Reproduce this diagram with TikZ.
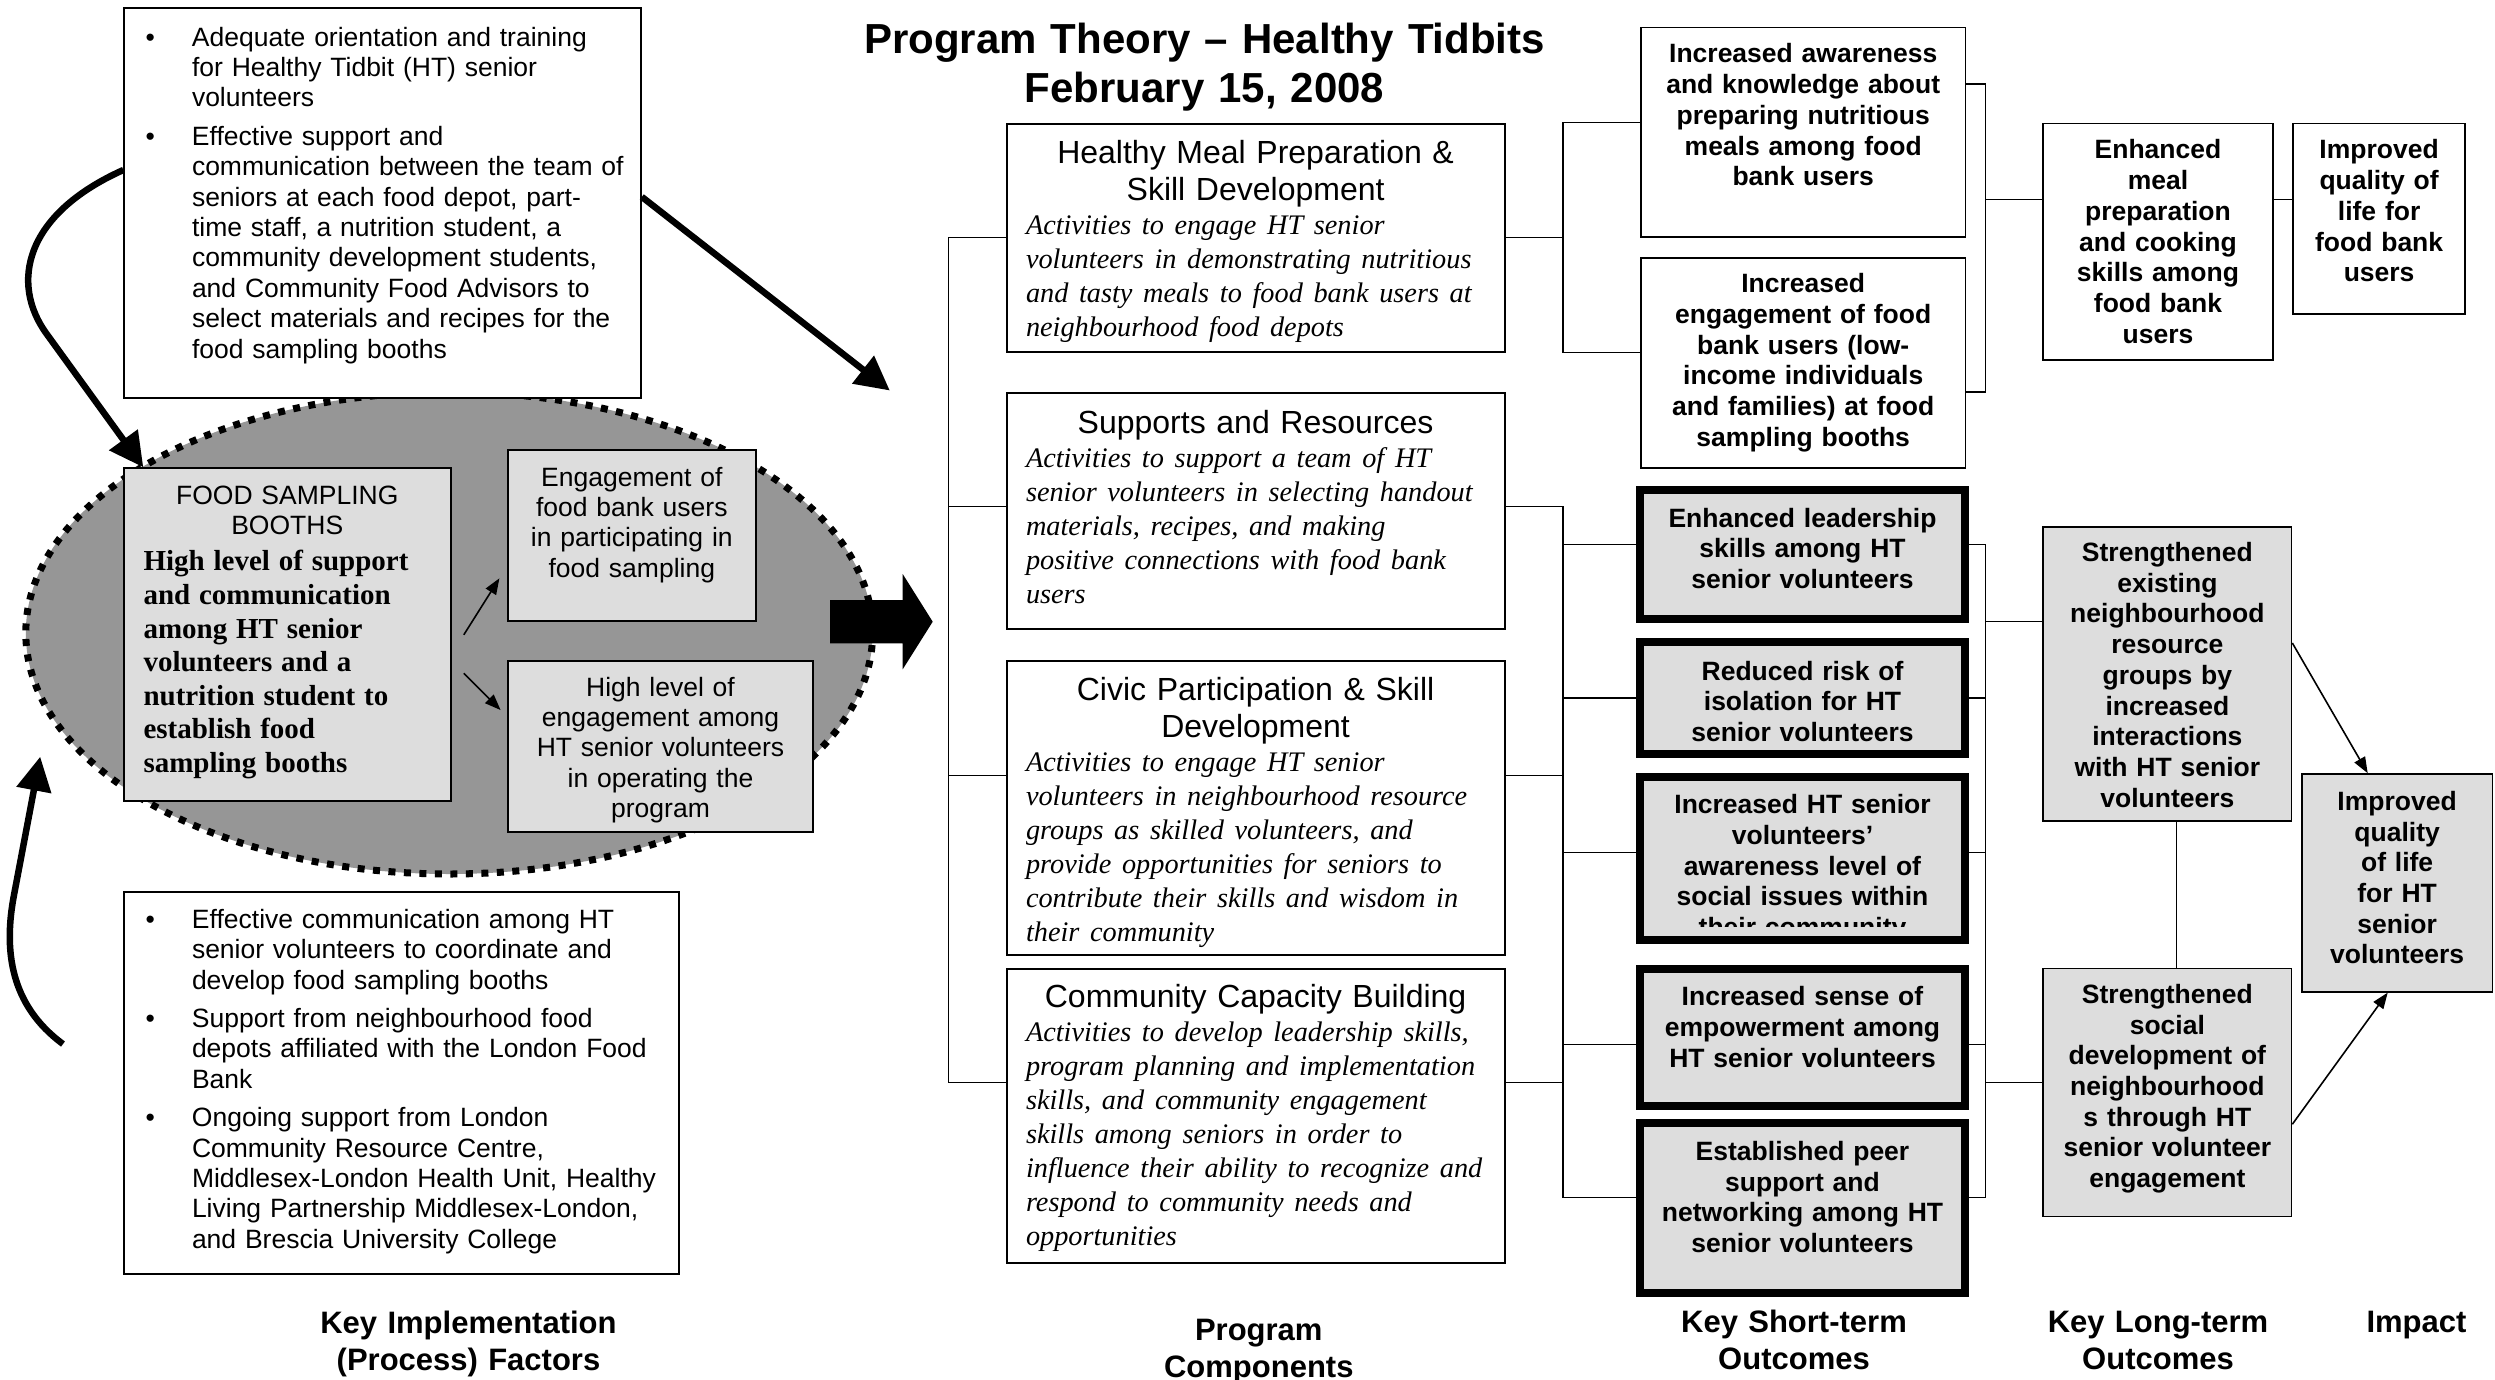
\documentclass[tikz,border=0pt]{standalone}
\usepackage{fontspec}
\setmainfont{Liberation Sans}
\newfontfamily\tnr{Liberation Serif}
\usetikzlibrary{arrows.meta}
\definecolor{midgray}{RGB}{150,150,150}
\definecolor{boxgray}{RGB}{221,221,221}
\newcommand\bul{\noindent\llap{\textbullet\hspace{37pt}}}

\begin{document}
\begin{tikzpicture}[x=1pt,y=-1pt,
    txt/.style={font=\fontsize{26.5}{30.4}\selectfont},
    plainbox/.style={draw,line width=2pt,fill=white,inner sep=0pt,anchor=north west},
    compbox/.style={plainbox,inner xsep=10pt,align=center,font=\fontsize{32}{37}\selectfont},
    outtext/.style={font=\bfseries\fontsize{26.5}{30.7}\selectfont},
    outbox/.style={draw,line width=1.6pt,fill=white,inner sep=0pt,anchor=north west,align=center,outtext},
    thickbox/.style={outbox,line width=8pt,fill=boxgray},
    link/.style={line width=1.4pt},
    bigarr/.style={line width=6.5pt,-{Triangle[length=34pt,width=34pt]}},
    smallarr/.style={line width=1.6pt,-{Triangle[length=16pt,width=12pt]}},
    colhead/.style={anchor=base,align=center,text width=420pt,font=\bfseries\fontsize{31}{37}\selectfont}]
        \path[use as bounding box,fill=white] (0,0) rectangle (2495,1379);
        % implementation side
        \draw[fill=midgray,line width=7pt,dash pattern=on 7pt off 8.5pt] (449.2,633) ellipse [x radius=423.4pt,y radius=241pt];
        \node[plainbox,align=left,txt,text width=516.4pt,text height=37.7pt,text depth=352pt] (impl1) at (123.4,7.3)
          {\leftskip=67.6pt
           \bul Adequate orientation and training\\
           for Healthy Tidbit (HT) senior\\
           volunteers\\[8pt]
           \bul Effective support and\\
           communication between the team of\\
           seniors at each food depot, part-\\
           time staff, a nutrition student, a\\
           community development students,\\
           and Community Food Advisors to\\
           select materials and recipes for the\\
           food sampling booths\par};
        \node[plainbox,align=left,txt,text width=554.9pt,text height=36.8pt,text depth=345.7pt] (impl2) at (123.4,890.5)
          {\leftskip=67.6pt
           \bul Effective communication among HT\\
           senior volunteers to coordinate and\\
           develop food sampling booths\\[8pt]
           \bul Support from neighbourhood food\\
           depots affiliated with the London Food\\
           Bank\\[8pt]
           \bul Ongoing support from London\\
           Community Resource Centre,\\
           Middlesex-London Health Unit, Healthy\\
           Living Partnership Middlesex-London,\\
           and Brescia University College\par};
        \node[plainbox,fill=boxgray,inner xsep=19.8pt,align=left,txt,text width=287.5pt,text height=36.2pt,text depth=296.8pt] (booth) at (122.7,467.3)
          {{\centering FOOD SAMPLING\\BOOTHS\par}\vspace{2.4pt}
           {\raggedright\tnr\bfseries\fontsize{29}{33.6}\selectfont High level of support\\and communication\\among HT senior\\volunteers and a\\nutrition student to\\establish food\\sampling booths\par}};
        \node[plainbox,fill=boxgray,align=center,txt,text width=247.6pt,text height=35.7pt,text depth=134.7pt] (engage1) at (507,449.3)
          {Engagement of\\food bank users\\in participating in\\food sampling};
        \node[plainbox,fill=boxgray,align=center,txt,text width=305pt,text height=35pt,text depth=135.7pt] (engage2) at (507,660)
          {High level of\\engagement among\\HT senior volunteers\\in operating the\\program};
        \draw[smallarr] ([xshift=12pt]booth.east) -- ([xshift=-7.6pt,yshift=-42.8pt]engage1.west);
        \draw[smallarr] ([xshift=12pt,yshift=-38.5pt]booth.east) -- ([xshift=-6.4pt,yshift=36.3pt]engage2.west);
        \coordinate (comptip) at (889.8,390.5);
        \coordinate (feedstart) at (63,1044);
        \coordinate (feedtip) at (40.2,756.7);
        \draw[bigarr] ([yshift=33.2pt]impl1.west) .. controls (23,215) and (11,284) .. (46,333) -- ([xshift=20.6pt]booth.north west);
        \draw[bigarr] ([yshift=6.3pt]impl1.east) -- (comptip);
        \draw[bigarr] (feedstart) .. controls (10,1005) and (3.5,950) .. (14,895) -- (feedtip);
        \fill (830,600) -- (902.7,600) -- (902.7,574) -- (932.7,621.7) -- (902.7,669.3) -- (902.7,643.3) -- (830,643.3) -- cycle;
        % title
        \node[anchor=base,align=center,text width=800pt,font=\bfseries\fontsize{42}{49}\selectfont] (title) at (1204.6,53)
          {Program Theory – Healthy Tidbits\\February 15, 2008};
        % program components
        \node[compbox,text width=478pt,text height=39.2pt,text depth=188.7pt] (comp1) at (1005.6,122.8)
          {Healthy Meal Preparation \&\\Skill Development\par
           {\raggedright\leftskip=9.4pt\tnr\itshape\fontsize{28.3}{34}\selectfont Activities to engage HT senior\\volunteers in demonstrating nutritious\\and tasty meals to food bank users at\\neighbourhood food depots\par}};
        \node[compbox,text width=478pt,text height=40.1pt,text depth=195.4pt] (comp2) at (1005.6,392)
          {Supports and Resources\par
           {\raggedright\leftskip=9.4pt\tnr\itshape\fontsize{28.3}{34}\selectfont Activities to support a team of HT\\senior volunteers in selecting handout\\materials, recipes, and making\\positive connections with food bank\\users\par}};
        \node[compbox,text width=478pt,text height=39.5pt,text depth=254.2pt] (comp3) at (1005.6,660.2)
          {Civic Participation \& Skill\\Development\par
           {\raggedright\leftskip=9.4pt\tnr\itshape\fontsize{28.3}{34}\selectfont Activities to engage HT senior\\volunteers in neighbourhood resource\\groups as skilled volunteers, and\\provide opportunities for seniors to\\contribute their skills and wisdom in\\their community\par}};
        \node[compbox,text width=478pt,text height=39.1pt,text depth=255.1pt] (comp4) at (1005.6,967.5)
          {Community Capacity Building\par
           {\raggedright\leftskip=9.4pt\tnr\itshape\fontsize{28.3}{34}\selectfont Activities to develop leadership skills,\\program planning and implementation\\skills, and community engagement\\skills among seniors in order to\\influence their ability to recognize and\\respond to community needs and\\opportunities\par}};
        % short-term outcomes
        \node[outbox,text width=324.8pt,text height=35.3pt,text depth=173.8pt] (short1) at (1640,26.8)
          {Increased awareness\\and knowledge about\\preparing nutritious\\meals among food\\bank users};
        \node[outbox,text width=324.8pt,text height=35pt,text depth=175.1pt] (short2) at (1640,257)
          {Increased\\engagement of food\\bank users (low-\\income individuals\\and families) at food\\sampling booths};
        \node[thickbox,text width=325pt,text height=37.5pt,text depth=91.6pt] (short3) at (1636,485.7)
          {Enhanced leadership\\skills among HT\\senior volunteers};
        \node[thickbox,text width=325pt,text height=37.6pt,text depth=73.9pt] (short4) at (1636,638.4)
          {Reduced risk of\\isolation for HT\\senior volunteers};
        \node[thickbox,text width=325pt,text height=36.4pt,text depth=126.2pt] (short5) at (1636,773.2) {};
        \begin{scope}
          \clip ([xshift=8pt,yshift=-8pt]short5.north west) rectangle ([xshift=-8pt,yshift=17.8pt]short5.south east);
          \node[anchor=base,align=center,text width=317pt,outtext] (short5text) at ([yshift=-40.4pt]short5.north)
            {Increased HT senior\\volunteers’\\awareness level of\\social issues within\\their community};
        \end{scope}
        \node[thickbox,text width=325pt,text height=36.5pt,text depth=100.5pt] (short6) at (1636,965.2)
          {Increased sense of\\empowerment among\\HT senior volunteers};
        \node[thickbox,text width=325pt,text height=37.9pt,text depth=132.6pt] (short7) at (1636,1118.6)
          {Established peer\\support and\\networking among HT\\senior volunteers};
        % long-term outcomes and impact
        \node[outbox,text width=229.5pt,text height=35.3pt,text depth=201pt] (long1) at (2042.4,122.8)
          {Enhanced\\meal\\preparation\\and cooking\\skills among\\food bank\\users};
        \node[outbox,text width=172pt,text height=35.3pt,text depth=155pt] (impact1) at (2292.3,122.8)
          {Improved\\quality of\\life for\\food bank\\users};
        \node[outbox,fill=boxgray,text width=248.3pt,text height=34.8pt,text depth=259.7pt] (long2) at (2042.4,525.9)
          {Strengthened\\existing\\neighbourhood\\resource\\groups by\\increased\\interactions\\with HT senior\\volunteers};
        \node[outbox,fill=boxgray,text width=248.3pt,text height=35pt,text depth=213.1pt] (long3) at (2042.4,967.5)
          {Strengthened\\social\\development of\\neighbourhood\\s through HT\\senior volunteer\\engagement};
        \node[outbox,fill=boxgray,text width=190.8pt,text height=36.3pt,text depth=181.5pt] (impact2) at (2300.9,773.2)
          {Improved\\quality\\of life\\for HT\\senior\\volunteers};
        % connectors
        \draw[link] (comp1.west) -- ++(-57.1,0) |- ([yshift=33.2pt]comp4.west);
        \draw[link] ([yshift=4pt]comp2.west) -- ++(-57.1,0);
        \draw[link] ([yshift=32.5pt]comp3.west) -- ++(-57.1,0);
        \draw[link] (comp1.east) -- ++(57.2,0);
        \draw[link] ([yshift=9.7pt]short1.west) -- ++(-77.2,0) |- ([yshift=10.2pt]short2.west);
        \draw[link] ([yshift=4pt]comp2.east) -- ++(57.2,0) |- ([yshift=10.2pt]short7.west);
        \draw[link] ([yshift=32.5pt]comp3.east) -- ++(57.2,0);
        \draw[link] ([yshift=33.2pt]comp4.east) -- ++(57.2,0);
        \draw[link] ([yshift=9.6pt]short3.west) -- ++(-73.2,0);
        \draw[link] (short4.west) -- ++(-73.2,0);
        \draw[link] ([yshift=6.3pt]short5.west) -- ++(-73.2,0);
        \draw[link] ([yshift=-6.5pt]short6.west) -- ++(-73.2,0);
        \draw[link] ([yshift=48.3pt]short1.east) -- ++(18.9,0) |- ([yshift=-29pt]short2.east);
        \draw[link] ([yshift=42pt]long1.west) -- ++(-57.1,0);
        \draw[link] ([yshift=42pt]long1.east) -- ++(18.8,0);
        \draw[link] ([yshift=9.6pt]short3.east) -- ++(16.3,0) |- ([yshift=10.2pt]short7.east);
        \draw[link] (short4.east) -- ++(16.3,0);
        \draw[link] ([yshift=6.3pt]short5.east) -- ++(16.3,0);
        \draw[link] ([yshift=-6.5pt]short6.east) -- ++(16.3,0);
        \draw[link] ([yshift=52.5pt]long2.west) -- ++(-57.1,0);
        \draw[link] ([yshift=10pt]long3.west) -- ++(-57.1,0);
        \draw[link] ([xshift=9.2pt]long2.south) -- ([xshift=9.2pt]long3.north);
        \draw[smallarr] ([yshift=31pt]long2.east) -- ([xshift=-29.4pt]impact2.north);
        \draw[smallarr] ([yshift=-31.9pt]long3.east) -- ([xshift=-9.4pt]impact2.south);
        % column heads
        \node[colhead] (head1) at (468.5,1333.3) {Key Implementation\\(Process) Factors};
        \node[colhead] (head2) at (1258.8,1340) {Program\\Components};
        \node[colhead] (head3) at (1794,1332.8) {Key Short-term\\Outcomes};
        \node[colhead] (head4) at (2158,1332.8) {Key Long-term\\Outcomes};
        \node[colhead] (head5) at (2416.5,1332.8) {Impact};
      \end{tikzpicture}
\end{document}
